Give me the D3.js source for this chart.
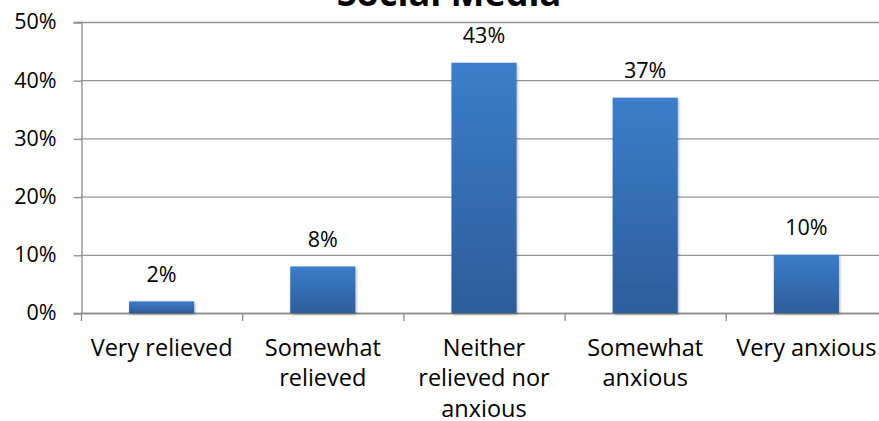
<!DOCTYPE html>
<html>
<head>
<meta charset="utf-8">
<script src="https://cdn.jsdelivr.net/npm/d3@7"></script>
<style>
  html, body { margin: 0; padding: 0; background: #fff; }
  svg { display: block; font-family: "Open Sans", Lato, sans-serif; }
</style>
</head>
<body>
<svg id="chart" width="879" height="421"></svg>
<script>
// Survey responses: feelings about social media
const title = "Social Media";
const categories = ["Very relieved", "Somewhat relieved", "Neither relieved nor anxious", "Somewhat anxious", "Very anxious"];
const shares = [0.02, 0.08, 0.43, 0.37, 0.10];
const yTicks = [0, 0.1, 0.2, 0.3, 0.4, 0.5];

const svg = d3.select("#chart");
const W = 879, H = 421;
const m = { left: 81, right: -8, top: 22, bottom: 108 };
const plotRight = W - m.right;
const plotBottom = H - m.bottom;
const numSize = 21.5;
const catSize = 23.5;

const x = d3.scaleBand().domain(categories).range([m.left, plotRight]).padding(0);
const y = d3.scaleLinear().domain([0, 0.5]).range([plotBottom, m.top]);
const fmt = d3.format(".0%");

// bar fill: lighter blue at the top, darker at the base
const defs = svg.append("defs");
const grad = defs.append("linearGradient").attr("id", "barFill")
  .attr("x1", 0).attr("y1", 0).attr("x2", 0).attr("y2", 1);
grad.append("stop").attr("offset", "0%").attr("stop-color", "#3c7dca");
grad.append("stop").attr("offset", "100%").attr("stop-color", "#2d5d9b");
const shadow = defs.append("filter").attr("id", "barShadow")
  .attr("x", "-20%").attr("y", "-20%").attr("width", "140%").attr("height", "140%");
shadow.append("feDropShadow").attr("dx", 1).attr("dy", 1.5).attr("stdDeviation", 1.5)
  .attr("flood-color", "#000").attr("flood-opacity", 0.3);

// horizontal gridlines
svg.append("g").selectAll("line").data(yTicks).join("line")
  .attr("x1", m.left).attr("x2", plotRight)
  .attr("y1", d => y(d) + 0.5).attr("y2", d => y(d) + 0.5)
  .attr("stroke", "#979797").attr("stroke-width", 1.3);

// y axis
const yAxis = svg.append("g").attr("transform", `translate(${m.left + 0.5},0)`)
  .call(d3.axisLeft(y).tickValues(yTicks).tickFormat(fmt).tickSize(8).tickPadding(17));
yAxis.select(".domain").attr("stroke", "#8c8c8c").attr("stroke-width", 1.3);
yAxis.selectAll(".tick line").attr("stroke", "#8c8c8c").attr("stroke-width", 1.3)
  .attr("transform", "translate(0,0.5)");
yAxis.selectAll(".tick text").attr("font-size", numSize).attr("fill", "#000")
  .attr("font-family", "'Open Sans', sans-serif");

// x axis line with ticks at category boundaries
const xAxisG = svg.append("g");
xAxisG.append("line").attr("x1", m.left).attr("x2", plotRight)
  .attr("y1", plotBottom + 0.5).attr("y2", plotBottom + 0.5)
  .attr("stroke", "#8c8c8c").attr("stroke-width", 1.3);
const boundaries = categories.map(c => x(c)).concat([x.range()[1]]);
xAxisG.selectAll("line.bt").data(boundaries).join("line").attr("class", "bt")
  .attr("x1", d => d + 0.5).attr("x2", d => d + 0.5)
  .attr("y1", plotBottom).attr("y2", plotBottom + 8)
  .attr("stroke", "#8c8c8c").attr("stroke-width", 1.3);

// category labels, wrapped to the band width
const labels = svg.append("g").selectAll("text").data(categories).join("text")
  .attr("x", d => x(d) + x.bandwidth() / 2)
  .attr("y", plotBottom + 43)
  .attr("text-anchor", "middle").attr("font-size", catSize).attr("fill", "#000");
labels.each(function (d) {
  const t = d3.select(this);
  const words = d.split(" ");
  const maxW = x.bandwidth() * 0.93;
  let line = [], lines = [];
  const probe = t.append("tspan");
  words.forEach(w => {
    const trial = line.concat([w]).join(" ");
    probe.text(trial);
    if (probe.node().getComputedTextLength() > maxW && line.length) {
      lines.push(line.join(" "));
      line = [w];
    } else {
      line.push(w);
    }
  });
  lines.push(line.join(" "));
  probe.remove();
  const cx = +t.attr("x");
  lines.forEach((s, i) => {
    t.append("tspan").attr("x", cx).attr("dy", i === 0 ? 0 : 30.3).text(s);
  });
});

// bars
const barW = x.bandwidth() * 0.404;
svg.append("g").selectAll("rect").data(categories).join("rect")
  .attr("x", d => x(d) + (x.bandwidth() - barW) / 2)
  .attr("width", barW)
  .attr("y", (d, i) => y(shares[i]))
  .attr("height", (d, i) => y(0) - y(shares[i]))
  .attr("fill", "url(#barFill)")
  .attr("filter", "url(#barShadow)");

// value labels
svg.append("g").selectAll("text").data(categories).join("text")
  .attr("x", d => x(d) + x.bandwidth() / 2)
  .attr("y", (d, i) => y(shares[i]) - 19.5)
  .attr("text-anchor", "middle").attr("font-size", numSize).attr("fill", "#000")
  .text((d, i) => fmt(shares[i]));

// title (runs past the top edge)
svg.append("text").attr("x", 449).attr("y", 6)
  .attr("text-anchor", "middle").attr("font-size", 36).attr("font-weight", "bold")
  .attr("fill", "#000").text(title);
</script>
</body>
</html>
